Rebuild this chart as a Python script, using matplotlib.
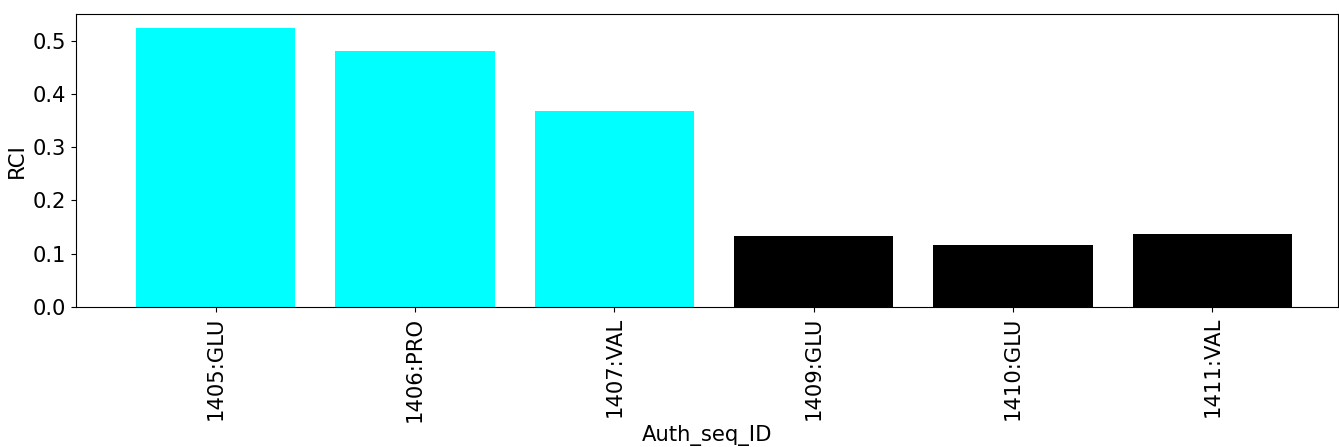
import matplotlib
matplotlib.use("Agg")
import matplotlib.pyplot as plt

residues = ["1405:GLU", "1406:PRO", "1407:VAL", "1409:GLU", "1410:GLU", "1411:VAL"]
rci = [0.524, 0.481, 0.368, 0.133, 0.117, 0.137]
colors = ["cyan", "cyan", "cyan", "black", "black", "black"]

plt.rcParams["font.size"] = 15.2

fig = plt.figure(figsize=(13.39, 4.47), dpi=100)
ax = fig.add_axes([76 / 1339, 1 - 307 / 447, (1338 - 76) / 1339, (307 - 14) / 447])
ax.bar(residues, rci, color=colors, width=0.8)
ax.set_xlabel("Auth_seq_ID", labelpad=2)
ax.set_ylabel("RCI")
ax.tick_params(axis="x", rotation=90)
ax.set_xlim(-0.7, 5.63)
fig.savefig("out.png", dpi=100)
